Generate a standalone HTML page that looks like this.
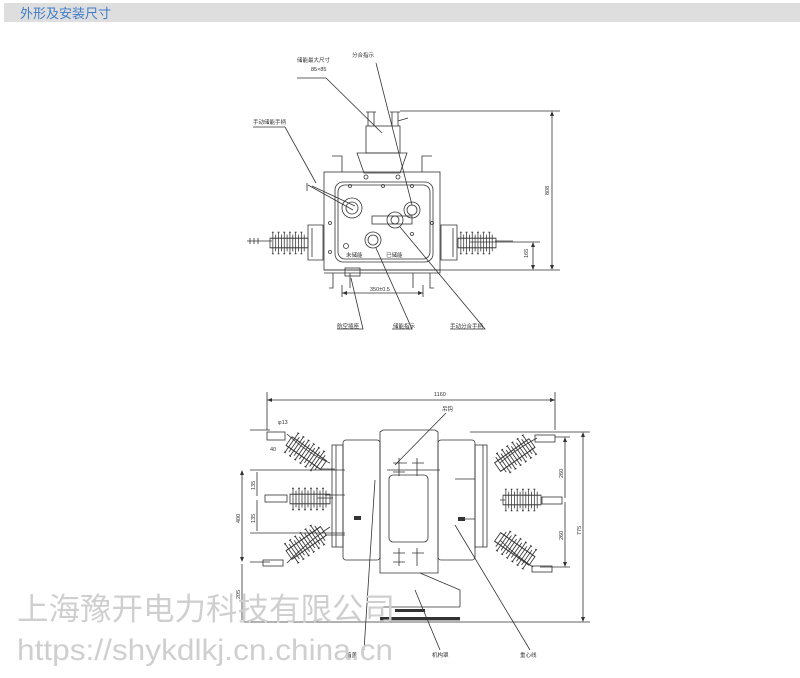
<!DOCTYPE html>
<html><head><meta charset="utf-8"><style>
html,body{margin:0;padding:0;background:#fff;width:800px;height:678px;overflow:hidden}
svg{display:block}
text{font-family:"Liberation Sans","Noto Sans CJK SC",sans-serif}
</style></head><body>
<svg width="800" height="678" viewBox="0 0 800 678" xmlns="http://www.w3.org/2000/svg">
<defs>
<g id="ins" fill="none" stroke="#333" stroke-width="0.8">
<rect x="0" y="-4" width="40" height="8"/>
<path d="M3 -9 v18 M6 -7 v14 M9 -9 v18 M12 -7 v14 M15 -9 v18 M18 -7 v14 M21 -9 v18 M24 -7 v14 M27 -9 v18 M30 -7 v14 M33 -9 v18 M36 -7 v14"/>
<path d="M2 -9 h2 M2 9 h2 M8 -9 h2 M8 9 h2 M14 -9 h2 M14 9 h2 M20 -9 h2 M20 9 h2 M26 -9 h2 M26 9 h2 M32 -9 h2 M32 9 h2"/>
</g>
</defs>
<rect x="4" y="3" width="796" height="19" fill="#dedede"/>
<text x="20" y="18" font-size="13" fill="#3f7cc8">外形及安装尺寸</text>

<g fill="none" stroke="#333" stroke-width="0.8">
<rect x="324" y="172" width="116" height="98"/>
<rect x="335" y="182" width="98" height="80" rx="8"/>
<rect x="338" y="185" width="92" height="74" rx="7"/>
<path d="M357 153 L407 153 L400 173 L364 173 Z"/>
<rect x="366" y="126" width="34" height="27"/>
<path d="M368 112 V126 M374 112 V126 M392 112 V126 M398 112 V126 M366 112 h10 M390 112 h10 M398 121 L408 118"/>
<path d="M332 156 h10 v16 M432 156 h-10 v16"/>
<path d="M308 225 h15 v35 h-15 z M312 228 v29"/>
<path d="M247 241 h25"/>
<path d="M250 238 v6 M254 238 v6 M258 238 v6"/>
<path d="M441 225 h16 v35 h-16 z M453 228 v29"/>
<path d="M495 241 h18"/>
<path d="M324 270 h116 v3 h-116"/>
<path d="M333 273 v15 h-4 M350 273 v15 M413 273 v15 M430 273 v15 h4"/>
<rect x="345" y="268" width="15" height="8"/>
<circle cx="352" cy="208" r="10"/><circle cx="352" cy="208" r="6"/>
<circle cx="395" cy="220" r="8"/><circle cx="395" cy="220" r="4"/>
<circle cx="412" cy="210" r="8"/><circle cx="412" cy="210" r="5"/>
<circle cx="373" cy="240" r="8"/><circle cx="373" cy="240" r="5"/>
<rect x="372" y="216" width="40" height="8"/>
<path d="M308 185 L353 210 M312 186 L355 206 M307 183 v8"/>
<circle cx="366" cy="177" r="2"/><circle cx="398" cy="177" r="2"/>
<circle cx="350" cy="186" r="1.5"/><circle cx="383" cy="186" r="1.5"/><circle cx="412" cy="186" r="1.5"/>
<circle cx="330" cy="223" r="1.5"/><circle cx="330" cy="252" r="1.5"/><circle cx="432" cy="223" r="1.5"/>
<circle cx="346" cy="246" r="2.5"/><circle cx="412" cy="234" r="1.5"/>
<path d="M400 111 H560 M440 270 H560 M470 242 H540"/>
<path d="M552 113 V268 M533 244 V268"/>
<path d="M342 293 H423 M342 285 V297 M423 285 V297"/>
<path d="M297 78 L326 78 L382 133 M376 63 L412 205 M253 127 L285 127 L316 183 M337 329 L363 329 L351 278 M392 329 L412 329 L376 248 M450 329 L485 329 L400 227"/>
</g>
<use href="#ins" transform="translate(270 243) scale(0.95 1.2)"/>
<use href="#ins" transform="translate(458 243) scale(0.95 1.2)"/>
<g fill="#333">
<path d="M552 111 l-2 5 h4z M552 270 l-2 -5 h4z M533 242 l-2 5 h4z M533 270 l-2 -5 h4z M342 293 l5 -2 v4z M423 293 l-5 -2 v4z"/>
</g>
<g font-size="5.5" fill="#333">
<text x="297" y="62">储能最大尺寸</text>
<text x="311" y="71">85×85</text>
<text x="352" y="57">分合指示</text>
<text x="253" y="124">手动储能手柄</text>
<text x="346" y="257">未储能</text>
<text x="386" y="257">已储能</text>
<text x="370" y="291">350±0.5</text>
<text x="337" y="328">航空插座</text>
<text x="393" y="328">储能指示</text>
<text x="450" y="328">手动分合手柄</text>
<text x="528" y="258" transform="rotate(-90 528 258)">165</text>
<text x="549" y="195" transform="rotate(-90 549 195)">808</text>
</g>

<g fill="none" stroke="#333" stroke-width="0.8">
<path d="M267 400 H555 M267 392 V430 M555 392 V430"/>
<rect x="343" y="440" width="37" height="120" rx="3"/>
<path d="M380 432 L383 430 H435 L438 432 V573 H380 Z"/>
<rect x="389" y="475" width="39" height="67" rx="4"/>
<rect x="438" y="440" width="37" height="120" rx="3"/>
<rect x="332" y="445" width="11" height="102"/>
<rect x="475" y="445" width="12" height="102"/>
<path d="M336 445 v102 M483 445 v102"/>
<path d="M393 463 h12 M393 472 h12 M399 458 v18 M412 463 h12 M417 458 v18 M405 463 h2"/>
<path d="M393 553 h12 M393 562 h12 M399 548 v18 M412 553 h12 M417 548 v18"/>
<path d="M387 470 H440 M320 469 H335 M325 495 H345 M325 535 H345 M455 479 H475 M460 519 H475"/>
<path d="M287 434 Q310 455 330 463 M287 563 Q310 540 330 527 M317 498 H333 M500 463 Q515 450 537 438 M500 540 Q515 555 533 567 M500 500 H505"/>
<rect x="267" y="432" width="18" height="8"/><rect x="265" y="495" width="22" height="7"/><rect x="263" y="560" width="20" height="6"/>
<rect x="535" y="435" width="20" height="7"/><rect x="542" y="497" width="20" height="7"/><rect x="532" y="566" width="20" height="6"/>
<path d="M420 573 L460 590 V607 M377 607 H460 M380 620 H460"/>
<path d="M250 470 H345 M250 533 H345 M250 562 H270 M242 622 H590 M470 432 H590 M555 437 H570 M540 567 H570 M250 430 H270"/>
<path d="M242 472 V560 M257 472 V496 M257 500 V531 M242 564 V620 M565 439 V498 M565 502 V565 M583 434 V620"/>
<path d="M446 413 L395 465 M364 650 L375 480 M440 650 L415 590 M530 650 L455 525"/>
</g>
<use href="#ins" transform="translate(289 441) rotate(35) scale(1.05 1.3)"/>
<use href="#ins" transform="translate(289 555) rotate(-35) scale(1.05 1.3)"/>
<use href="#ins" transform="translate(290 499) scale(1 1.2)"/>
<use href="#ins" transform="translate(532 443) rotate(145) scale(1.05 1.3)"/>
<use href="#ins" transform="translate(532 561) rotate(-145) scale(1.05 1.3)"/>
<use href="#ins" transform="translate(503 500) scale(0.95 1.2)"/>
<g fill="#333">
<rect x="354" y="516" width="7" height="4"/><rect x="458" y="517" width="7" height="4"/>
<rect x="395" y="609" width="30" height="3"/><rect x="380" y="617" width="80" height="3"/>
<path d="M267 400 l5 -2 v4z M555 400 l-5 -2 v4z M242 470 l-2 5 h4z M242 562 l-2 -5 h4z M583 432 l-2 5 h4z M583 622 l-2 -5 h4z M565 437 l-2 5 h4z M565 567 l-2 -5 h4z"/>
</g>
<g font-size="5.5" fill="#333">
<text x="434" y="396">1160</text>
<text x="278" y="424">φ13</text>
<text x="270" y="451">40</text>
<text x="442" y="411">吊钩</text>
<text x="346" y="657">箱盖</text>
<text x="432" y="657">机构罩</text>
<text x="520" y="657">重心线</text>
<text x="240" y="523" transform="rotate(-90 240 523)">400</text>
<text x="255" y="490" transform="rotate(-90 255 490)">135</text>
<text x="255" y="523" transform="rotate(-90 255 523)">135</text>
<text x="240" y="599" transform="rotate(-90 240 599)">205</text>
<text x="563" y="478" transform="rotate(-90 563 478)">260</text>
<text x="563" y="540" transform="rotate(-90 563 540)">260</text>
<text x="581" y="535" transform="rotate(-90 581 535)">775</text>
</g>

<text x="17" y="620" font-size="31" fill="#cfcfcf" textLength="378" lengthAdjust="spacingAndGlyphs" font-family="'Noto Sans CJK SC',sans-serif">上海豫开电力科技有限公司</text>
<text x="17" y="660" font-size="30" fill="#cfcfcf" textLength="376" lengthAdjust="spacingAndGlyphs">https://shykdlkj.cn.china.cn</text>
</svg>
</body></html>
